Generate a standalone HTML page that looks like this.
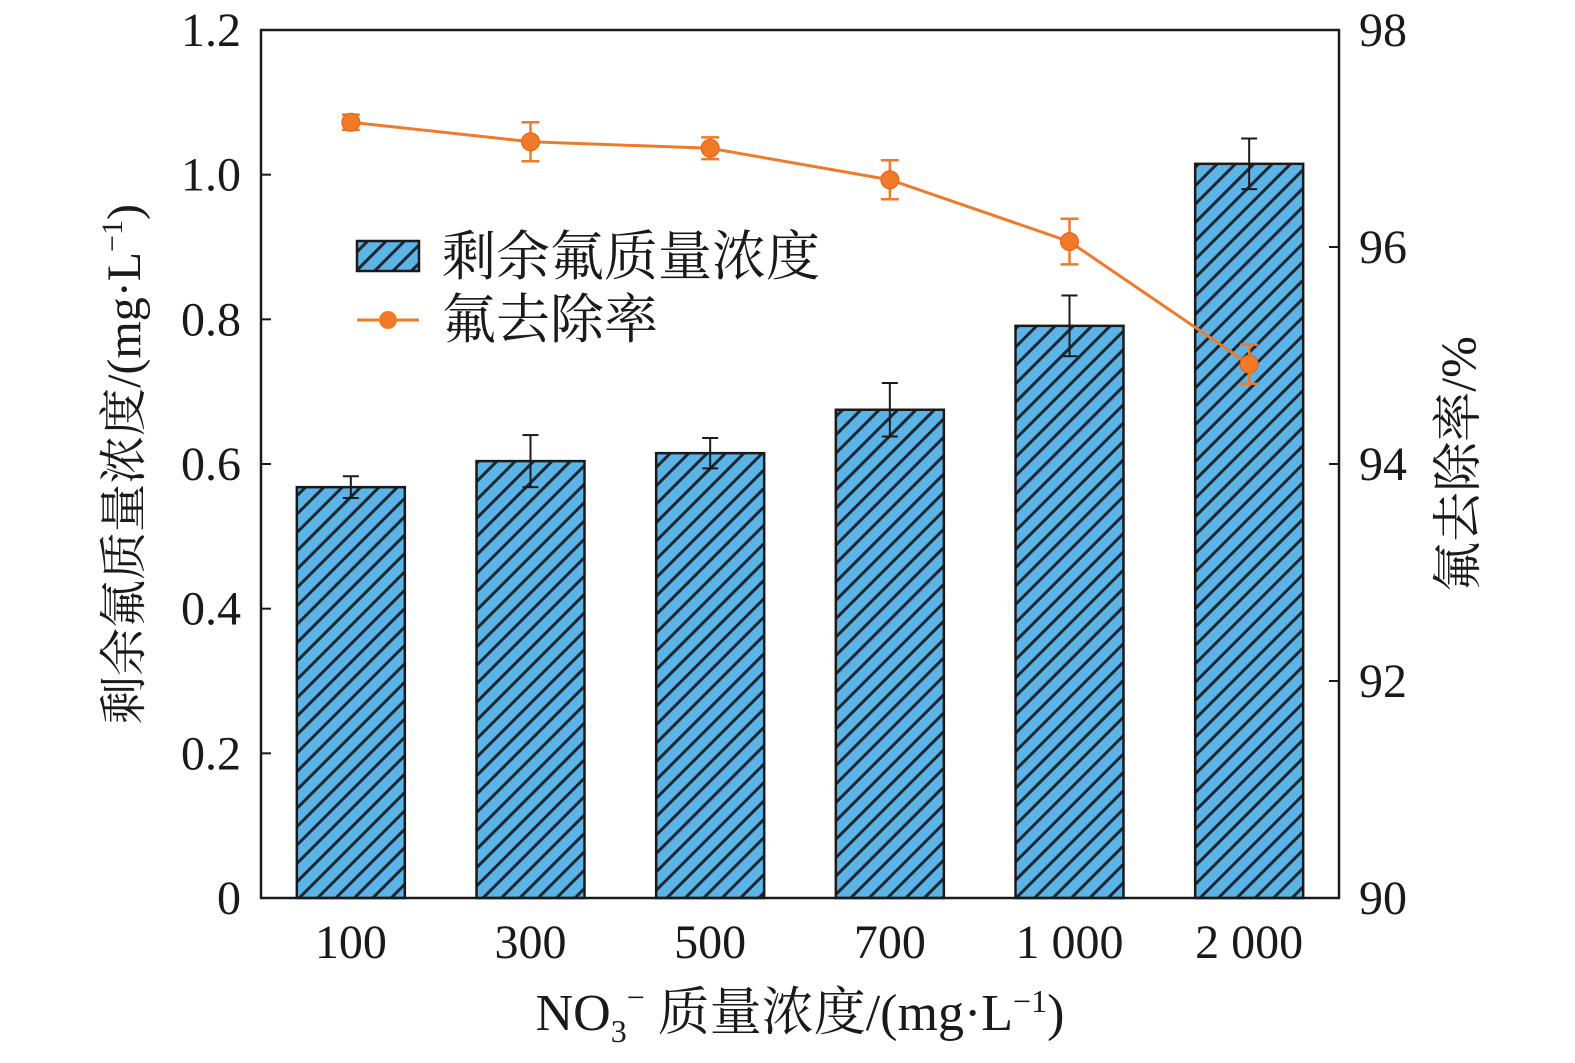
<!DOCTYPE html>
<html><head><meta charset="utf-8"><style>
html,body{margin:0;padding:0;background:#fff;overflow:hidden;width:1575px;height:1063px;}
svg{display:block;}
svg text{font-family:"Liberation Serif","Noto Serif CJK SC",serif;fill:#1a1a1a;}
</style></head><body>
<svg id="chart" width="1575" height="1063" viewBox="0 0 1575 1063" xmlns="http://www.w3.org/2000/svg">
<defs>
<pattern id="hatch" patternUnits="userSpaceOnUse" width="13" height="13" patternTransform="rotate(45)">
<rect width="13" height="13" fill="#5bb4e5"/>
<line x1="0" y1="0" x2="0" y2="13" stroke="#1a2733" stroke-width="6"/>
</pattern>
</defs>
<g id="plot"></g>
<g>
<rect x="357" y="241" width="62" height="30" fill="url(#hatch)" stroke="#1a1a1a" stroke-width="2.5"/>
<text x="442" y="275" font-size="54">剩余氟质量浓度</text>
<line x1="357" y1="320" x2="419" y2="320" stroke="#f07a2a" stroke-width="3"/>
<circle cx="388" cy="320" r="9" fill="#f07a2a"/>
<text x="442" y="338" font-size="54">氟去除率</text>
</g>
<text transform="translate(140,464) rotate(-90)" text-anchor="middle" font-size="48">剩余氟质量浓度/(mg·L<tspan dy="-18" font-size="30">−1</tspan><tspan dy="18">)</tspan></text>
<text transform="translate(1475,464) rotate(-90)" text-anchor="middle" font-size="50">氟去除率/%</text>
<text x="800" y="1030" text-anchor="middle" font-size="52">NO<tspan dy="12" font-size="32">3</tspan><tspan dy="-34" font-size="32">−</tspan><tspan dy="22"> 质量浓度/(mg·L</tspan><tspan dy="-18" font-size="32">−1</tspan><tspan dy="18">)</tspan></text>
</svg>
<script>
const categories=["100","300","500","700","1 000","2 000"];
const barValues=[0.568,0.604,0.615,0.675,0.791,1.015];
const barErrors=[0.015,0.036,0.021,0.037,0.042,0.035];
const lineValues=[97.15,96.97,96.91,96.62,96.05,94.92];
const lineErrors=[0.07,0.18,0.1,0.18,0.21,0.18];
const leftTicks=[0,0.2,0.4,0.6,0.8,1.0,1.2];
const leftTickLabels=["0","0.2","0.4","0.6","0.8","1.0","1.2"];
const rightTicks=[90,92,94,96,98];

const L=261,R=1339,T=30,B=898;
const NS="http://www.w3.org/2000/svg";
const g=document.getElementById('plot');
const yL=v=>B-(v-0)/1.2*(B-T);
const yR=v=>B-(v-90)/8*(B-T);
const band=(R-L)/categories.length;
const xC=i=>L+band*(i+0.5);
function mk(tag,attrs,parent){const e=document.createElementNS(NS,tag);for(const k in attrs)e.setAttribute(k,attrs[k]);(parent||g).appendChild(e);return e;}

barValues.forEach((v,i)=>{
 const bw=108;
 const r=mk('rect',{x:xC(i)-bw/2,y:yL(v),width:bw,height:B-yL(v),fill:'url(#hatch)',stroke:'#1a1a1a','stroke-width':2.5});
 
 
 const e=barErrors[i];
 const eg=mk('g',{stroke:'#1a1a1a','stroke-width':2});
 
 
 mk('line',{x1:xC(i),x2:xC(i),y1:yL(v+e),y2:yL(v-e)},eg);
 mk('line',{x1:xC(i)-8,x2:xC(i)+8,y1:yL(v+e),y2:yL(v+e)},eg);
 mk('line',{x1:xC(i)-8,x2:xC(i)+8,y1:yL(v-e),y2:yL(v-e)},eg);
});
const pl=mk('polyline',{points:lineValues.map((v,i)=>xC(i)+','+yR(v)).join(' '),fill:'none',stroke:'#f07a2a','stroke-width':3});


lineValues.forEach((v,i)=>{
 const e=lineErrors[i];
 const eg=mk('g',{stroke:'#f07a2a','stroke-width':2.5});
 
 
 mk('line',{x1:xC(i),x2:xC(i),y1:yR(v+e),y2:yR(v-e)},eg);
 mk('line',{x1:xC(i)-9,x2:xC(i)+9,y1:yR(v+e),y2:yR(v+e)},eg);
 mk('line',{x1:xC(i)-9,x2:xC(i)+9,y1:yR(v-e),y2:yR(v-e)},eg);
 const c=mk('circle',{cx:xC(i),cy:yR(v),r:9,fill:'#f07a2a',stroke:'#e06010','stroke-width':1});
 
 
});
const fr=mk('rect',{x:L,y:T,width:R-L,height:B-T,fill:'none',stroke:'#1a1a1a','stroke-width':2.5});


leftTicks.forEach((v,i)=>{
 mk('line',{x1:L,x2:L+10,y1:yL(v),y2:yL(v),stroke:'#1a1a1a','stroke-width':2});
 const t=mk('text',{x:L-20,y:yL(v)+16,'text-anchor':'end','font-size':48});
 t.textContent=leftTickLabels[i];
 
 
});
rightTicks.forEach(v=>{
 mk('line',{x1:R-10,x2:R,y1:yR(v),y2:yR(v),stroke:'#1a1a1a','stroke-width':2});
 const t=mk('text',{x:R+20,y:yR(v)+16,'text-anchor':'start','font-size':48});
 t.textContent=String(v);
 
 
});
categories.forEach((c,i)=>{
 const t=mk('text',{x:xC(i),y:958,'text-anchor':'middle','font-size':48});
 t.textContent=c;
 
 
});
</script>
</body></html>
